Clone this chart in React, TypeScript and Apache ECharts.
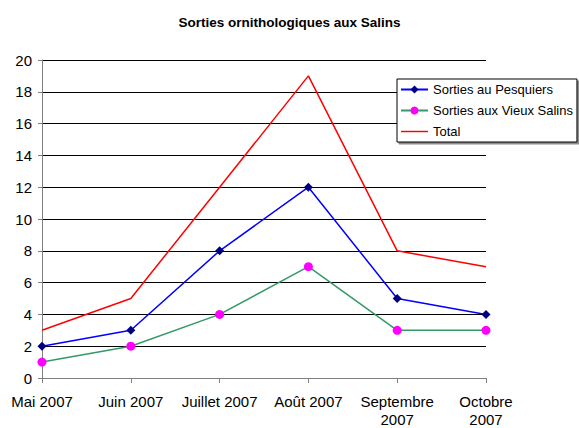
import React, { useEffect, useRef } from "react";
import * as echarts from "echarts";

const categories = ["Mai 2007", "Juin 2007", "Juillet 2007", "Août 2007", "Septembre\n2007", "Octobre\n2007"];
const pesquiers = [2, 3, 8, 12, 5, 4];
const vieuxSalins = [1, 2, 4, 7, 3, 3];
const total = [3, 5, 12, 19, 8, 7];

const FONT = "'Liberation Sans', Arial, sans-serif";

export default function App() {
  const ref = useRef<HTMLDivElement>(null);
  useEffect(() => {
    if (!ref.current) return;
    const chart = echarts.init(ref.current, undefined, { renderer: "svg" });
    chart.setOption({
      animation: false,
      backgroundColor: "#fff",
      title: {
        text: "Sorties ornithologiques aux Salins",
        left: "center",
        top: 10,
        textStyle: { fontFamily: FONT, fontSize: 13.5, fontWeight: "bold", color: "#000" },
      },
      legend: {
        orient: "vertical",
        left: 397,
        top: 79,
        padding: [4, 4, 4, 3],
        itemGap: 8,
        itemWidth: 27,
        itemHeight: 10,
        backgroundColor: "#fff",
        borderColor: "#000",
        borderWidth: 1,
        borderRadius: 0,
        shadowColor: "rgba(0,0,0,0.45)",
        shadowOffsetX: 2,
        shadowOffsetY: 2,
        shadowBlur: 0,
        textStyle: { fontFamily: FONT, fontSize: 13, color: "#000" },
        data: [
          "Sorties au Pesquiers",
          "Sorties aux Vieux Salins",
          { name: "Total", icon: "path://M0,0 L28,0 L28,1.5 L0,1.5 Z" },
        ],
      },
      grid: { left: 42, right: 93, top: 60, bottom: 49, containLabel: false },
      xAxis: {
        type: "category",
        data: categories,
        boundaryGap: false,
        axisLine: { lineStyle: { color: "#808080", width: 1 } },
        axisTick: { show: true, alignWithLabel: true, length: 5, lineStyle: { color: "#808080" } },
        axisLabel: { fontFamily: FONT, fontSize: 15, color: "#000", margin: 14, interval: 0, lineHeight: 18 },
        splitLine: { show: false },
      },
      yAxis: {
        type: "value",
        min: 0,
        max: 20,
        interval: 2,
        axisLine: { show: true, lineStyle: { color: "#808080", width: 1 } },
        axisTick: { show: true, length: 4, lineStyle: { color: "#808080" } },
        axisLabel: { fontFamily: FONT, fontSize: 15, color: "#000", margin: 10 },
        splitLine: { show: true, lineStyle: { color: "#000", width: 1 } },
      },
      series: [
        {
          name: "Sorties au Pesquiers",
          type: "line",
          data: pesquiers,
          symbol: "diamond",
          symbolSize: 9,
          lineStyle: { color: "#0000FF", width: 1.5 },
          itemStyle: { color: "#000080" },
          z: 3,
        },
        {
          name: "Sorties aux Vieux Salins",
          type: "line",
          data: vieuxSalins,
          symbol: "circle",
          symbolSize: 9,
          lineStyle: { color: "#339966", width: 1.5 },
          itemStyle: { color: "#FF00FF" },
          z: 2,
        },
        {
          name: "Total",
          type: "line",
          data: total,
          symbol: "none",
          lineStyle: { color: "#FF0000", width: 1.5 },
          itemStyle: { color: "#FF0000" },
          z: 1,
        },
      ],
    });
    return () => chart.dispose();
  }, []);
  return <div ref={ref} style={{ width: 579, height: 428, position: "absolute", left: 0, top: 0 }} />;
}
